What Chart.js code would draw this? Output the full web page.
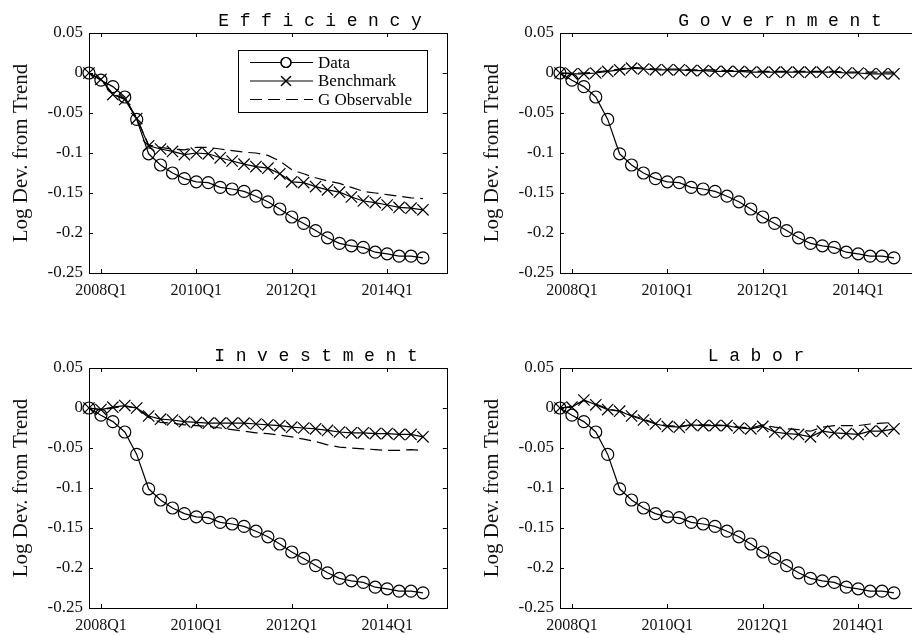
<!DOCTYPE html>
<html>
<head>
<meta charset="utf-8">
<script src="https://cdn.jsdelivr.net/npm/chart.js@4/dist/chart.umd.min.js"></script>
<style>
  html, body { margin: 0; padding: 0; background: #fff; overflow: hidden; }
  body { width: 912px; height: 635px; position: relative; }
  .panel { position: absolute; width: 456px; height: 318px; }
</style>
</head>
<body>
<div class="panel" style="left:0px;top:0px"><canvas id="effChart" width="456" height="318"></canvas></div>
<div class="panel" style="left:471px;top:0px"><canvas id="govChart" width="456" height="318"></canvas></div>
<div class="panel" style="left:0px;top:335px"><canvas id="invChart" width="456" height="318"></canvas></div>
<div class="panel" style="left:471px;top:335px"><canvas id="labChart" width="456" height="318"></canvas></div>
<script>
//quarters 2007Q4 .. 2014Q4
const quarters = ['2007Q4',
  '2008Q1','2008Q2','2008Q3','2008Q4','2009Q1','2009Q2','2009Q3','2009Q4',
  '2010Q1','2010Q2','2010Q3','2010Q4','2011Q1','2011Q2','2011Q3','2011Q4',
  '2012Q1','2012Q2','2012Q3','2012Q4','2013Q1','2013Q2','2013Q3','2013Q4',
  '2014Q1','2014Q2','2014Q3','2014Q4'];
const xTickLabels = ['2008Q1', '2010Q1', '2012Q1', '2014Q1'];
const yTicks = [-0.25, -0.2, -0.15, -0.1, -0.05, 0, 0.05];

//data (same in every panel)
const dataSeries = [0, -0.009, -0.017, -0.030, -0.058, -0.101, -0.115, -0.125, -0.132, -0.136,
  -0.137, -0.143, -0.145, -0.148, -0.154, -0.161, -0.170, -0.180, -0.188, -0.197,
  -0.206, -0.213, -0.216, -0.218, -0.224, -0.226, -0.229, -0.229, -0.231];

//efficiency
const effBench = [0, -0.008, -0.027, -0.033, -0.057, -0.091, -0.095, -0.098, -0.102, -0.100,
  -0.101, -0.106, -0.110, -0.114, -0.117, -0.119, -0.126, -0.136, -0.137, -0.142,
  -0.146, -0.149, -0.155, -0.160, -0.162, -0.165, -0.168, -0.169, -0.171];
const effGobs = [0, -0.008, -0.026, -0.032, -0.056, -0.090, -0.093, -0.095, -0.096, -0.093,
  -0.093, -0.095, -0.097, -0.099, -0.100, -0.103, -0.110, -0.121, -0.126, -0.131,
  -0.135, -0.138, -0.143, -0.148, -0.150, -0.152, -0.154, -0.156, -0.157];

//government
const govBench = [0, -0.001, -0.001, 0.000, 0.002, 0.004, 0.006, 0.005, 0.004, 0.004,
  0.004, 0.003, 0.003, 0.002, 0.002, 0.002, 0.001, 0.001, 0.001, 0.001,
  0.001, 0.001, 0.001, 0.001, 0.000, 0.000, -0.001, -0.001, -0.001];
const govGobs = [0, 0.000, 0.000, 0.001, 0.003, 0.005, 0.007, 0.006, 0.005, 0.005,
  0.005, 0.004, 0.004, 0.004, 0.003, 0.003, 0.003, 0.002, 0.002, 0.002,
  0.002, 0.002, 0.002, 0.002, 0.001, 0.001, 0.001, 0.001, 0.001];

//investment
const invBench = [0, -0.002, 0.001, 0.003, 0.000, -0.010, -0.014, -0.015, -0.017, -0.018,
  -0.019, -0.019, -0.019, -0.019, -0.020, -0.021, -0.022, -0.024, -0.025, -0.026,
  -0.028, -0.030, -0.031, -0.031, -0.032, -0.032, -0.033, -0.033, -0.036];
const invGobs = [0, -0.002, 0.000, 0.002, 0.000, -0.012, -0.018, -0.019, -0.021, -0.022,
  -0.023, -0.025, -0.027, -0.029, -0.031, -0.032, -0.034, -0.036, -0.039, -0.042,
  -0.046, -0.049, -0.050, -0.051, -0.052, -0.053, -0.053, -0.052, -0.053];

//labor
const labBench = [0, 0.001, 0.010, 0.004, -0.002, -0.004, -0.010, -0.015, -0.020, -0.023,
  -0.024, -0.021, -0.022, -0.022, -0.022, -0.025, -0.026, -0.023, -0.030, -0.032,
  -0.033, -0.036, -0.029, -0.031, -0.032, -0.033, -0.029, -0.029, -0.026];
const labGobs = [0, 0.002, 0.009, 0.005, -0.001, -0.004, -0.009, -0.014, -0.019, -0.022,
  -0.023, -0.021, -0.021, -0.021, -0.022, -0.024, -0.025, -0.021, -0.024, -0.026,
  -0.027, -0.029, -0.024, -0.022, -0.022, -0.022, -0.020, -0.019, -0.018];

const seriesNames = ['Data', 'Benchmark', 'G Observable'];

const serif = 'Liberation Serif, Times New Roman, serif';
const mono = 'Liberation Mono, Courier New, monospace';

//box, inward ticks, spaced title, legend
const framePlugin = {
    id: 'frame',
    afterDraw(chart, args, opts) {
        const ctx = chart.ctx;
        const a = chart.chartArea;
        const xs = chart.scales.x, ys = chart.scales.y;
        ctx.save();
        ctx.strokeStyle = '#000';
        ctx.lineWidth = 1;
        ctx.strokeRect(Math.round(a.left) + 0.5, Math.round(a.top) + 0.5,
            Math.round(a.right - a.left), Math.round(a.bottom - a.top));
        ctx.beginPath();
        xs.ticks.forEach(t => {
            const px = Math.round(xs.getPixelForValue(t.value)) + 0.5;
            ctx.moveTo(px, a.bottom); ctx.lineTo(px, a.bottom - 4);
            ctx.moveTo(px, a.top); ctx.lineTo(px, a.top + 4);
        });
        ys.ticks.forEach(t => {
            const py = Math.round(ys.getPixelForValue(t.value)) + 0.5;
            ctx.moveTo(a.left, py); ctx.lineTo(a.left + 4, py);
            ctx.moveTo(a.right, py); ctx.lineTo(a.right - 4, py);
        });
        ctx.stroke();

        //title, one letter at a time
        const pitch = 21.4;
        const chars = opts.title.split('');
        const cx = a.left + opts.titleCenter;
        const x0 = cx - (chars.length - 1) * pitch / 2;
        ctx.fillStyle = '#000';
        ctx.font = '18px ' + mono;
        ctx.textAlign = 'center';
        ctx.textBaseline = 'alphabetic';
        chars.forEach((c, i) => ctx.fillText(c, x0 + i * pitch, a.top - 7));

        if (opts.legend) {
            const bx = a.left + 149, by = a.top + 17, bw = 189, bh = 62;
            ctx.fillStyle = '#fff';
            ctx.fillRect(bx, by, bw, bh);
            ctx.strokeRect(bx + 0.5, by + 0.5, bw, bh);
            ctx.font = '17px ' + serif;
            ctx.textAlign = 'left';
            ctx.textBaseline = 'middle';
            chart.data.datasets.forEach((ds, i) => {
                const ry = by + 12.5 + i * 18.5;
                ctx.beginPath();
                ctx.lineWidth = 1.2;
                ctx.setLineDash(ds.borderDash || []);
                ctx.moveTo(bx + 12, ry); ctx.lineTo(bx + 75, ry);
                ctx.stroke();
                ctx.setLineDash([]);
                if (ds.pointRadius > 0) {
                    Chart.helpers.drawPoint(ctx, {
                        pointStyle: ds.pointStyle, radius: ds.pointRadius - 1, borderWidth: 1.2
                    }, bx + 48, ry);
                    ctx.stroke();
                }
                ctx.fillStyle = '#000';
                ctx.fillText(ds.label, bx + 80, ry + 1);
            });
        }
        ctx.restore();
    }
};

function makeDatasets(bench, gobs) {
    const pts = arr => arr.map((v, i) => ({x: i, y: v}));
    return [{
        label: seriesNames[0],
        data: pts(dataSeries),
        borderColor: '#000',
        borderWidth: 1.2,
        pointStyle: 'circle',
        pointRadius: 6,
        pointBorderWidth: 1.2,
        pointBorderColor: '#000',
        pointBackgroundColor: 'rgba(0,0,0,0)',
        clip: false
    }, {
        label: seriesNames[1],
        data: pts(bench),
        borderColor: '#000',
        borderWidth: 1.2,
        pointStyle: 'crossRot',
        pointRadius: 8,
        pointBorderWidth: 1.2,
        pointBorderColor: '#000',
        clip: false
    }, {
        label: seriesNames[2],
        data: pts(gobs),
        borderColor: '#000',
        borderWidth: 1.2,
        borderDash: [12, 6],
        pointRadius: 0,
        clip: false
    }];
}

function makeConfig(title, titleCenter, bench, gobs, legend) {
    return {
        type: 'line',
        data: { datasets: makeDatasets(bench, gobs) },
        options: {
            responsive: false,
            animation: false,
            events: [],
            layout: { padding: { top: 33, right: 9, left: 0, bottom: 0 } },
            plugins: {
                legend: { display: false },
                tooltip: { enabled: false },
                frame: { title: title, titleCenter: titleCenter, legend: legend }
            },
            scales: {
                x: {
                    type: 'linear',
                    min: 0,
                    max: quarters.length + 1,
                    afterBuildTicks: s => { s.ticks = xTickLabels.map(l => ({value: quarters.indexOf(l)})); },
                    afterFit: s => { s.height = 45; },
                    grid: { display: false, drawTicks: false },
                    border: { display: false },
                    ticks: {
                        autoSkip: false, maxRotation: 0, padding: 8, color: '#111',
                        font: { family: serif, size: 16 },
                        callback: v => quarters[v]
                    }
                },
                y: {
                    type: 'linear',
                    min: -0.25,
                    max: 0.05,
                    afterBuildTicks: s => { s.ticks = yTicks.map(v => ({value: v})); },
                    afterFit: s => { s.width = 89; },
                    grid: { display: false, drawTicks: false },
                    border: { display: false },
                    ticks: {
                        padding: 6, color: '#111',
                        font: { family: serif, size: 17 },
                        callback: v => String(+v.toFixed(2))
                    },
                    title: {
                        display: true, text: 'Log Dev. from Trend', color: '#111',
                        font: { family: serif, size: 21 },
                        padding: { top: 9, bottom: 0 }
                    }
                }
            }
        },
        plugins: [framePlugin]
    };
}

//render
const effChart = new Chart(document.getElementById('effChart').getContext('2d'),
    makeConfig('Efficiency', 231, effBench, effGobs, true));
const govChart = new Chart(document.getElementById('govChart').getContext('2d'),
    makeConfig('Government', 220, govBench, govGobs, false));
const invChart = new Chart(document.getElementById('invChart').getContext('2d'),
    makeConfig('Investment', 227, invBench, invGobs, false));
const labChart = new Chart(document.getElementById('labChart').getContext('2d'),
    makeConfig('Labor', 196, labBench, labGobs, false));
</script>
</body>
</html>
